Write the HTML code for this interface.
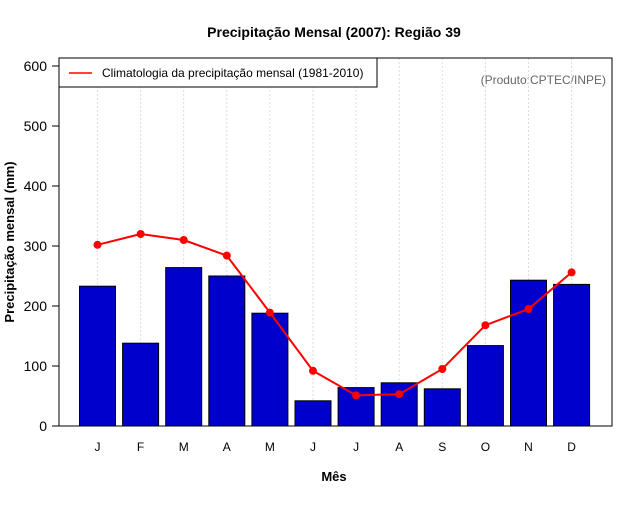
<!DOCTYPE html>
<html><head><meta charset="utf-8"><style>
body{margin:0;background:#fff;width:640px;height:500px;overflow:hidden}
svg{font-family:"Liberation Sans",sans-serif}
</style></head><body>
<svg id="c" width="640" height="500">
<text x="334" y="37" text-anchor="middle" font-size="14" font-weight="bold">Precipitação Mensal (2007): Região 39</text>
<text x="334" y="481" text-anchor="middle" font-size="13" font-weight="bold">Mês</text>
<text transform="translate(14,242) rotate(-90)" text-anchor="middle" font-size="13" font-weight="bold">Precipitação mensal (mm)</text>
<text x="606" y="84" text-anchor="end" font-size="12" fill="#666">(Produto:CPTEC/INPE)</text>
<g id="grid"></g><g id="bars"></g><g id="line"></g><g id="axes"></g>
<rect x="59" y="58" width="553" height="368" fill="none" stroke="#000"/>
<g>
<rect x="59" y="58" width="318" height="29" fill="#fff" stroke="#000"/>
<line x1="69" y1="73" x2="92" y2="73" stroke="red" stroke-width="1.5"/>
<text x="102" y="77" font-size="12">Climatologia da precipitação mensal (1981-2010)</text>
</g>
</svg>
<script>
const months=["J","F","M","A","M","J","J","A","S","O","N","D"];
const precip=[233,138,264,250,188,42,64,72,62,134,243,236];
const clim=[302,320,310,284,189,92,51,53,95,168,195,256];
const yTicks=[0,100,200,300,400,500,600];
const NS="http://www.w3.org/2000/svg";
const y=v=>426-v*0.6;
const x=i=>97.5+i*43.1;
function mk(t,a,p){const e=document.createElementNS(NS,t);for(const k in a)e.setAttribute(k,a[k]);document.getElementById(p).appendChild(e);return e;}
months.forEach((m,i)=>{
 let g=mk("line",{x1:x(i),x2:x(i),y1:58,y2:426,stroke:"#ddd","stroke-dasharray":"2,2"},"grid");
 
 
 let b=mk("rect",{x:x(i)-18,y:y(precip[i]),width:36,height:precip[i]*0.6,fill:"#0000cd",stroke:"#000"},"bars");
 
 
 let t=mk("text",{x:x(i),y:451,"text-anchor":"middle","font-size":12},"axes");t.textContent=m;
 
 
});
let pl=mk("polyline",{points:clim.map((v,i)=>x(i)+","+y(v)).join(" "),fill:"none",stroke:"red","stroke-width":2},"line");


clim.forEach((v,i)=>{let c=mk("circle",{cx:x(i),cy:y(v),r:4,fill:"red"},"line");
 
 });
yTicks.forEach(v=>{
 mk("line",{x1:52,x2:59,y1:y(v),y2:y(v),stroke:"#000"},"axes");
 let t=mk("text",{x:47,y:y(v)+5,"text-anchor":"end","font-size":14},"axes");t.textContent=v;
 
 
});
</script>
</body></html>
